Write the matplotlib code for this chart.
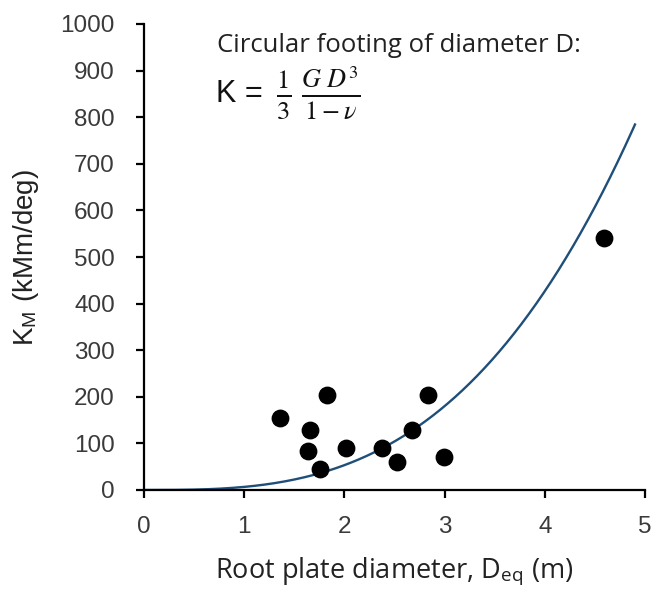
import numpy as np
import matplotlib
matplotlib.use("Agg")
import matplotlib.pyplot as plt

# measured root plate diameter (m) and rotational stiffness (kNm/deg)
d_eq = [1.36, 1.83, 1.66, 1.64, 1.76, 2.02, 2.38, 2.52, 2.67, 2.83, 2.99, 4.59]
k_m = [154, 204, 129, 84, 45, 91, 91, 61, 129, 204, 71, 541]

# circular footing: K = 1/3 * G D^3 / (1 - nu)
G = 15.0
nu = 0.25
d_max = 4.9

x_ticks = [0, 1, 2, 3, 4, 5]
y_ticks = [0, 100, 200, 300, 400, 500, 600, 700, 800, 900, 1000]

plt.rcParams["mathtext.fontset"] = "stix"

fig = plt.figure(figsize=(6.51, 5.90), dpi=100)
ax = fig.add_axes([144 / 651, 100 / 590, 501 / 651, 466 / 590])

d = np.linspace(0, d_max, 200)
k = G * d**3 / (3 * (1 - nu))
ax.plot(d, k, color="#1f4e79", lw=1.7, zorder=2)
ax.scatter(d_eq, k_m, s=140, color="black", zorder=3)

ax.set_xlim(0, 5)
ax.set_ylim(0, 1000)
ax.set_xticks(x_ticks)
ax.set_yticks(y_ticks)
ax.tick_params(direction="out", length=6, width=1.6, labelsize=17.5)
ax.tick_params(axis="x", pad=13)
ax.tick_params(axis="y", pad=15)
for lab in ax.get_xticklabels() + ax.get_yticklabels():
    lab.set_family("Liberation Sans")
    lab.set_color("#3a3a3a")
for side in ["top", "right"]:
    ax.spines[side].set_visible(False)
for side in ["left", "bottom"]:
    ax.spines[side].set_linewidth(1.6)
ax.margins(0)

ax.set_xlabel("Root plate diameter, D$_{\\mathregular{eq}}$ (m)",
              family="Open Sans", fontsize=19.5, color="#222222")
ax.xaxis.set_label_coords(0.5, -0.14)
ax.set_ylabel("K$_{\\mathregular{M}}$ (kMm/deg)", family="Liberation Sans",
              fontsize=20, color="#222222")
ax.yaxis.set_label_coords(-0.205, 0.5)

fig.text(217 / 651, 1 - 52 / 590, "Circular footing of diameter D:",
         family="Open Sans", fontsize=18.5, va="baseline", ha="left", color="#222222")
fig.text(216 / 651, 1 - 102 / 590, "K =", family="Liberation Sans",
         fontsize=22, va="baseline", ha="left", color="#111111")
fig.text(276 / 651, 1 - 92 / 590, r"$\frac{1}{3}\;\frac{G\ D^3}{1-\nu}$",
         fontsize=27, va="center", ha="left", color="#111111")

fig.savefig("out.png", dpi=100)
